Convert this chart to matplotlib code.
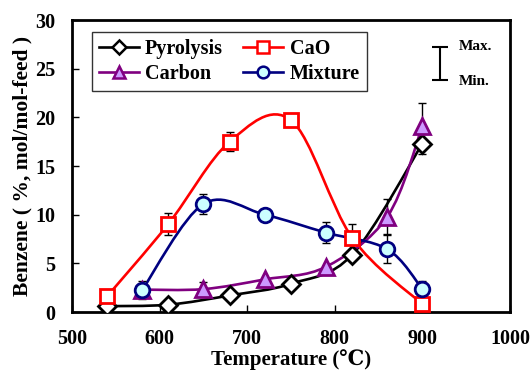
import numpy as np
import matplotlib
matplotlib.use("Agg")
import matplotlib.pyplot as plt
from matplotlib.path import Path
from matplotlib.patches import PathPatch
from matplotlib.lines import Line2D

plt.rcParams['font.family'] = ['Liberation Serif', 'DejaVu Serif']
plt.rcParams['font.weight'] = 'bold'

# data
pyro_t = [540, 610, 680, 750, 820, 900]
pyro_y = [0.6, 0.75, 1.7, 2.9, 5.9, 17.3]
pyro_err = [0, 0, 0, 0, 0, 1.1]

cao_t = [540, 610, 680, 750, 820, 900]
cao_y = [1.6, 9.05, 17.5, 19.7, 7.6, 0.8]
cao_err = [0, 1.1, 1.0, 0, 1.4, 0]

carbon_t = [580, 650, 720, 790, 860, 900]
carbon_y = [2.3, 2.35, 3.35, 4.65, 9.8, 19.1]
carbon_err = [0, 0.7, 0, 0, 1.8, 2.4]

mix_t = [580, 650, 720, 790, 860, 900]
mix_y = [2.25, 11.1, 10.0, 8.15, 6.45, 2.35]
mix_err = [0.9, 1.0, 0, 1.1, 1.45, 0.8]

XLIM = (500, 1000)
YLIM = (0, 30)
AX_W, AX_H = 438.0, 292.0


def smooth_path(xs, ys):
    # Excel-like smoothed line: cubic Bezier through the points
    sx = AX_W / (XLIM[1] - XLIM[0])
    sy = AX_H / (YLIM[1] - YLIM[0])
    p = np.column_stack([np.array(xs, float) * sx, np.array(ys, float) * sy])
    n = len(p)
    verts = [p[0]]
    codes = [Path.MOVETO]
    for i in range(n - 1):
        p0 = p[max(i - 1, 0)]
        p1 = p[i]
        p2 = p[i + 1]
        p3 = p[min(i + 2, n - 1)]
        c1 = p1 + (p2 - p0) / 6.0
        c2 = p2 - (p3 - p1) / 6.0
        verts += [c1, c2, p2]
        codes += [Path.CURVE4] * 3
    verts = np.array(verts)
    verts[:, 0] /= sx
    verts[:, 1] /= sy
    return Path(verts, codes)


fig = plt.figure(figsize=(5.32, 3.76), dpi=100)
ax = fig.add_axes([72 / 532, 64 / 376, AX_W / 532, AX_H / 376])

series = {
    'Pyrolysis': (pyro_t, pyro_y, pyro_err, 'black', 'white', 'D', 9.5),
    'CaO': (cao_t, cao_y, cao_err, '#FF0000', 'white', 's', 10.5),
    'Carbon': (carbon_t, carbon_y, carbon_err, '#800080', '#CC99FF', '^', 11),
    'Mixture': (mix_t, mix_y, mix_err, '#000080', '#CCFFFF', 'o', 10.5),
}

for name, (t, y, err, col, face, mk, ms) in series.items():
    ax.add_patch(PathPatch(smooth_path(t, y), facecolor='none', edgecolor=col,
                           lw=1.9, zorder=2))
for name, (t, y, err, col, face, mk, ms) in series.items():
    te = [a for a, e in zip(t, err) if e > 0]
    ye = [a for a, e in zip(y, err) if e > 0]
    ee = [e for e in err if e > 0]
    ax.errorbar(te, ye, yerr=ee, fmt='none', ecolor='black', elinewidth=1,
                capsize=3, capthick=1, zorder=3)
handles = {}
for name, (t, y, err, col, face, mk, ms) in series.items():
    ax.plot(t, y, ls='none', marker=mk, ms=ms, mfc=face, mec=col, mew=2,
            zorder=4)
    handles[name] = Line2D([], [], color=col, lw=1.9, marker=mk, ms=ms * 0.8,
                           mfc=face, mec=col, mew=1.8, label=name)

ax.set_xlim(*XLIM)
ax.set_ylim(*YLIM)
ax.set_xticks([500, 600, 700, 800, 900, 1000])
ax.set_yticks([0, 5, 10, 15, 20, 25, 30])
ax.tick_params(direction='in', length=5, width=1, labelsize=14.5)
ax.tick_params(axis='x', pad=12)
ax.tick_params(axis='y', pad=12)
for s in ax.spines.values():
    s.set_linewidth(2)
for lab in ax.get_xticklabels() + ax.get_yticklabels():
    lab.set_fontweight('bold')

ax.set_xlabel('Temperature (℃)', fontsize=15, fontweight='bold', labelpad=0)
ax.set_ylabel('Benzene ( %, mol/mol-feed )', fontsize=15.5, fontweight='bold',
              labelpad=2)

# row-major legend: Pyrolysis, CaO / Carbon, Mixture
order = ['Pyrolysis', 'Carbon', 'CaO', 'Mixture']
leg = ax.legend(handles=[handles[k] for k in order], ncol=2, loc='upper left',
                bbox_to_anchor=(0.045, 0.96), frameon=True, fancybox=False,
                edgecolor='black', fontsize=14.5, handlelength=2.0,
                handletextpad=0.3, columnspacing=1.0, labelspacing=0.25,
                borderpad=0.35, borderaxespad=0)
leg.get_frame().set_linewidth(1)
for txt in leg.get_texts():
    txt.set_fontweight('bold')

# Max./Min. key
ax.errorbar([920], [25.5], yerr=[[1.7], [1.7]], fmt='none', ecolor='black',
            elinewidth=1.5, capsize=6, capthick=1.5)
ax.text(942, 27.3, 'Max.', fontsize=11, fontweight='bold', va='center')
ax.text(942, 23.7, 'Min.', fontsize=11, fontweight='bold', va='center')

fig.savefig('out.png', dpi=100)
